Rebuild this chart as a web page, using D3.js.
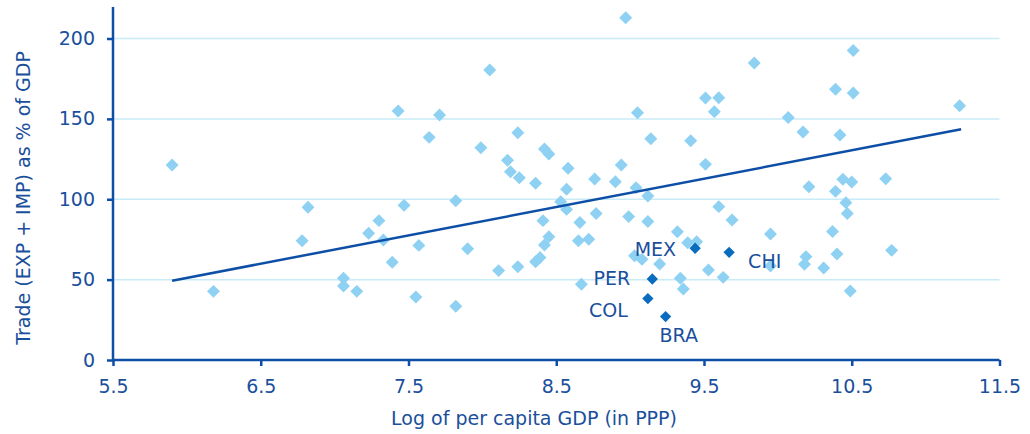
<!DOCTYPE html>
<html>
<head>
<meta charset="utf-8">
<script src="https://cdn.jsdelivr.net/npm/d3@7"></script>
<style>
  body { margin: 0; background: #fff; }
  svg text { font-family: "DejaVu Sans", sans-serif; fill: #1a4f9c; }
</style>
</head>
<body>
<div class="canvas"></div>
<script>
// log per capita GDP (PPP) vs trade openness
const gdpLog = [5.90, 6.18, 6.78, 6.82, 7.06, 7.06, 7.15, 7.23, 7.30, 7.33, 7.39, 7.47, 7.57, 7.55, 7.82,
  7.43, 7.64, 7.71, 8.97, 8.05, 9.05, 9.51, 9.60, 9.57, 8.24, 7.99, 9.14, 9.41, 8.17, 8.19,
  8.25, 8.42, 8.45, 8.36, 8.58, 8.57, 8.76, 8.90, 8.94, 9.04, 9.12, 9.51, 7.82, 8.53, 8.57,
  8.77, 8.99, 9.12, 8.41, 8.66, 9.60, 9.69, 9.32, 8.45, 8.42, 8.65, 8.72, 7.90, 9.39, 9.45,
  9.03, 9.08, 9.20, 8.39, 8.36, 8.11, 8.24, 9.53, 9.63, 9.34, 9.36, 8.67, 9.84, 10.51, 10.39,
  10.51, 11.23, 10.07, 10.17, 10.42, 10.21, 10.39, 10.44, 10.50, 10.73, 10.46, 10.47, 9.95, 10.37, 10.19,
  10.18, 9.95, 10.31, 10.40, 10.77, 10.49]
const tradePct = [121.3, 42.7, 74.2, 95.0, 50.8, 46.0, 42.7, 78.8, 86.7, 74.6, 60.8, 96.2, 71.3, 39.2, 33.4,
  154.9, 138.5, 152.4, 212.9, 180.4, 153.8, 163.0, 163.2, 154.5, 141.4, 132.1, 137.7, 136.4, 124.2, 117.1,
  113.4, 131.3, 128.1, 109.9, 119.3, 106.2, 112.6, 110.9, 121.3, 107.2, 102.0, 121.7, 99.1, 98.5, 93.7,
  91.2, 89.2, 86.1, 86.7, 85.6, 95.4, 87.1, 79.8, 76.7, 71.5, 74.2, 75.1, 69.2, 73.0, 73.6,
  64.9, 62.6, 59.7, 63.7, 61.1, 55.6, 58.0, 56.0, 51.4, 50.8, 44.2, 47.1, 184.8, 192.6, 168.4,
  166.1, 158.2, 150.9, 141.8, 140.0, 107.8, 104.9, 112.4, 110.7, 112.8, 97.9, 91.2, 78.4, 80.0, 64.3,
  59.5, 58.5, 57.2, 65.9, 68.2, 42.9]

const hlNames = ["MEX", "CHI", "PER", "COL", "BRA"]
const hlGdp = [9.44, 9.67, 9.15, 9.12, 9.24]
const hlTrade = [69.5, 67.0, 50.4, 38.2, 27.0]

const trendGdp = [5.90, 11.24]
const trendTrade = [49.3, 143.5]

const xTicks = [5.5, 6.5, 7.5, 8.5, 9.5, 10.5, 11.5]
const yTicks = [0, 50, 100, 150, 200]

// label placement next to highlighted points
const labelPos = {
  MEX: { dx: -19, dy: 8, anchor: "end" },
  CHI: { dx: 19, dy: 16, anchor: "start" },
  PER: { dx: -22, dy: 6, anchor: "end" },
  COL: { dx: -20, dy: 18, anchor: "end" },
  BRA: { dx: -6, dy: 25, anchor: "start" }
}

const dim = { width: 1030, height: 434 }
const axisColor = "#0d4ea6"

const svg = d3.select(".canvas").append("svg").attr("width", dim.width).attr("height", dim.height)

const x = d3.scaleLinear().domain([5.5, 11.5]).range([113, 999.5])
const y = d3.scaleLinear().domain([0, 200]).range([360, 38.5])

// gridlines
svg.append("g").selectAll("line").data(yTicks.filter(d => d > 0)).enter().append("line")
  .attr("x1", x(5.5)).attr("x2", x(11.5))
  .attr("y1", d => y(d)).attr("y2", d => y(d))
  .attr("stroke", "#c8ebf8").attr("stroke-width", 1.5)

const diamond = d3.symbol().type(d3.symbolSquare)

const pts = gdpLog.map((g, i) => ({ g: g, t: tradePct[i] }))
svg.append("g").selectAll("path").data(pts).enter().append("path")
  .attr("d", diamond.size(84)())
  .attr("transform", d => `translate(${x(d.g)},${y(d.t)}) rotate(45)`)
  .attr("fill", "#8ed1f2")

// trend line
svg.append("path")
  .datum(trendGdp.map((g, i) => [g, trendTrade[i]]))
  .attr("d", d3.line().x(d => x(d[0])).y(d => y(d[1])))
  .attr("fill", "none").attr("stroke", axisColor).attr("stroke-width", 2.5)

const hl = hlNames.map((n, i) => ({ n: n, g: hlGdp[i], t: hlTrade[i] }))
svg.append("g").selectAll("path").data(hl).enter().append("path")
  .attr("d", d3.symbol().type(d3.symbolSquare).size(64)())
  .attr("transform", d => `translate(${x(d.g)},${y(d.t)}) rotate(45)`)
  .attr("fill", "#0a6cbf")

svg.append("g").selectAll("text").data(hl).enter().append("text")
  .attr("x", d => x(d.g) + labelPos[d.n].dx)
  .attr("y", d => y(d.t) + labelPos[d.n].dy)
  .attr("text-anchor", d => labelPos[d.n].anchor)
  .attr("font-size", 19)
  .text(d => d.n)

// axes
const xAxis = svg.append("g").attr("transform", `translate(0,${y(0)})`)
  .call(d3.axisBottom(x).tickValues(xTicks).tickFormat(d3.format(".1f")).tickSize(6).tickPadding(14))
const yAxis = svg.append("g").attr("transform", `translate(${x(5.5)},0)`)
  .call(d3.axisLeft(y).tickValues(yTicks).tickSize(6).tickPadding(12))

yAxis.select(".domain").attr("d", `M0,${y(0)}V7`)
xAxis.select(".domain").attr("d", `M${x(5.5)},0H${x(11.5)}`)
svg.selectAll(".domain, .tick line").attr("stroke", axisColor).attr("stroke-width", 2.5)
svg.selectAll(".tick text").attr("font-size", 19).attr("font-family", null)

svg.append("text")
  .attr("x", 534).attr("y", 425).attr("text-anchor", "middle").attr("font-size", 19)
  .text("Log of per capita GDP (in PPP)")

svg.append("text")
  .attr("transform", "translate(30,198) rotate(-90)")
  .attr("text-anchor", "middle").attr("font-size", 19)
  .text("Trade (EXP + IMP) as % of GDP")
</script>
</body>
</html>
